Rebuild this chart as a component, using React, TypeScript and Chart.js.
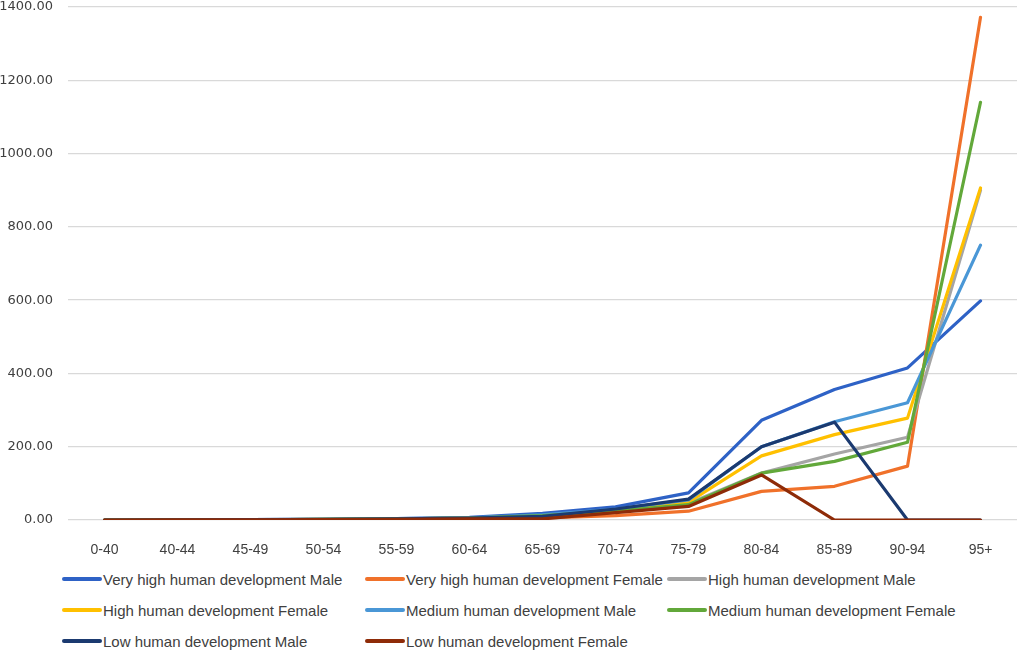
import { useEffect, useRef } from 'react';
import { Chart, registerables } from 'chart.js';

Chart.register(...registerables);

const ageGroups = ['0-40', '40-44', '45-49', '50-54', '55-59', '60-64', '65-69', '70-74', '75-79', '80-84', '85-89', '90-94', '95+'];
const yTicks = [0, 200, 400, 600, 800, 1000, 1200, 1400];

const veryHighMale = [0, 0.5, 1, 2, 4, 7, 18, 36, 74, 272, 356, 415, 598];
const veryHighFemale = [0, 0.2, 0.5, 1, 2, 3, 6, 12, 24, 78, 92, 147, 1372];
const highMale = [0, 0.3, 0.7, 1.5, 3, 5, 10, 25, 45, 128, 180, 226, 900];
const highFemale = [0, 0.3, 0.7, 1.5, 3, 5, 10, 27, 49, 175, 233, 278, 906];
const mediumMale = [0, 0.4, 0.8, 2, 4, 6, 14, 30, 55, 200, 268, 320, 750];
const mediumFemale = [0, 0.3, 0.7, 1.5, 3, 5, 12, 24, 42, 128, 160, 212, 1140];
const lowMale = [0, 0.4, 0.8, 2, 3, 5, 10, 30, 57, 200, 267, 0, 0];
const lowFemale = [0, 0.2, 0.5, 1, 2, 3, 3, 20, 37, 123, 0, 0, 0];

const series = [
  { label: 'Very high human development Male', data: veryHighMale, color: '#2E62C6' },
  { label: 'Very high human development Female', data: veryHighFemale, color: '#F0712A' },
  { label: 'High human development Male', data: highMale, color: '#A5A5A5' },
  { label: 'High human development Female', data: highFemale, color: '#FFC000' },
  { label: 'Medium human development Male', data: mediumMale, color: '#4A97D6' },
  { label: 'Medium human development Female', data: mediumFemale, color: '#62A83A' },
  { label: 'Low human development Male', data: lowMale, color: '#1B3A70' },
  { label: 'Low human development Female', data: lowFemale, color: '#8E2B08' },
];

const legendFont = '"Liberation Sans", Arial, sans-serif';

export default function App() {
  const canvasRef = useRef<HTMLCanvasElement>(null);
  const chartRef = useRef<Chart | null>(null);

  useEffect(() => {
    if (!canvasRef.current) return;
    if (chartRef.current) chartRef.current.destroy();
    const ctx = canvasRef.current.getContext('2d');
    if (!ctx) return;

    chartRef.current = new Chart(ctx, {
      type: 'line',
      data: {
        labels: ageGroups,
        datasets: series.map((s, i) => ({
          label: s.label,
          data: s.data,
          borderColor: s.color,
          backgroundColor: s.color,
          borderWidth: 3.2,
          pointRadius: 0,
          borderCapStyle: 'round' as const,
          borderJoinStyle: 'round' as const,
          tension: 0,
          order: series.length - 1 - i,
        })),
      },
      options: {
        animation: false,
        responsive: false,
        maintainAspectRatio: false,
        layout: { padding: { top: 7, right: 4, left: 0, bottom: 0 } },
        plugins: {
          legend: { display: false },
          tooltip: { enabled: false },
        },
        scales: {
          x: {
            offset: true,
            grid: { display: false },
            border: { display: false },
            ticks: {
              font: { size: 14, family: legendFont },
              color: '#404040',
              padding: 14,
              maxRotation: 0,
              autoSkip: false,
            },
            afterFit: (s: any) => { s.height = 40; s.paddingLeft = 0; s.paddingRight = 0; },
          },
          y: {
            min: 0,
            max: 1400,
            afterBuildTicks: (s: any) => { s.ticks = yTicks.map(v => ({ value: v })); },
            grid: { color: '#D9D9D9', lineWidth: 1.3, drawTicks: false },
            border: { display: false },
            ticks: {
              font: { size: 13, family: '"DejaVu Sans", Verdana, sans-serif' },
              color: '#404040',
              padding: 15,
              callback: (v: any) => Number(v).toFixed(2),
            },
            afterFit: (s: any) => { s.width = 68; s.paddingTop = 0; s.paddingBottom = 0; },
          },
        },
      },
    });

    return () => { chartRef.current?.destroy(); };
  }, []);

  const cols = [62, 365, 667];
  const rows = [579, 610, 641];

  return (
    <div style={{ position: 'fixed', left: 0, top: 0, width: 1021, height: 651, background: '#fff', overflow: 'hidden' }}>
      <canvas ref={canvasRef} width={1021} height={560} style={{ position: 'absolute', left: 0, top: 0, width: 1021, height: 560 }} />
      {series.map((s, i) => (
        <div
          key={s.label}
          style={{
            position: 'absolute',
            left: cols[i % 3],
            top: rows[Math.floor(i / 3)] - 10,
            height: 20,
            display: 'flex',
            alignItems: 'center',
            whiteSpace: 'nowrap',
            fontFamily: legendFont,
            fontSize: 15,
            color: '#404040',
          }}
        >
          <span style={{ display: 'inline-block', width: 40, height: 4, borderRadius: 2, background: s.color, marginRight: 1 }} />
          <span>{s.label}</span>
        </div>
      ))}
    </div>
  );
}
